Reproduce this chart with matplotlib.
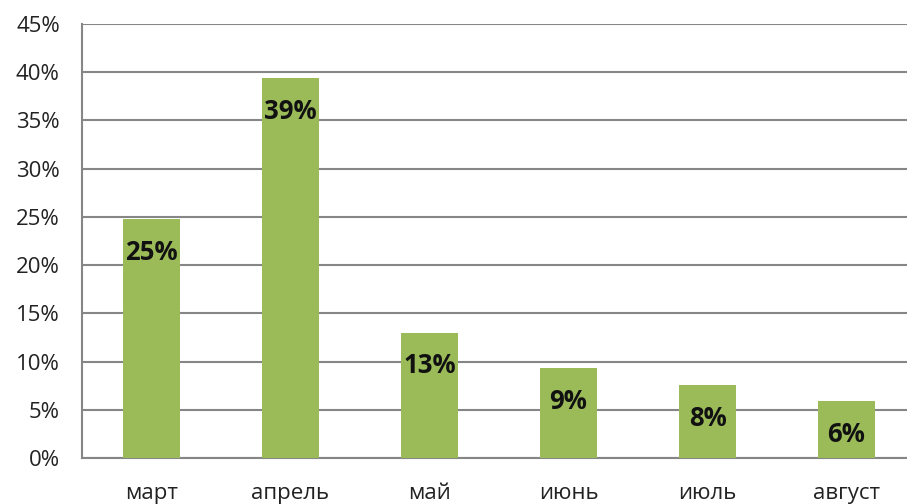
import matplotlib.pyplot as plt
import numpy as np

# Data
months = ['март', 'апрель', 'май', 'июнь', 'июль', 'август']
values = [24.8, 39.4, 13.0, 9.3, 7.6, 5.9]
labels = ['25%', '39%', '13%', '9%', '8%', '6%']
yticks = [0, 5, 10, 15, 20, 25, 30, 35, 40, 45]

plt.rcParams['font.family'] = ['Open Sans', 'DejaVu Sans']

fig = plt.figure(figsize=(9.07, 5.04), dpi=100)
ax = fig.add_axes([82/907, 46/504, 834/907, 434/504])

x = np.arange(len(months))
ax.bar(x, values, width=0.41, color='#9BBB59', zorder=3)

for xi, v, lab in zip(x, values, labels):
    ax.annotate(lab, (xi, v), xytext=(0, -24), textcoords='offset points',
                ha='center', va='center', fontsize=18.5, fontweight='bold',
                color='#111111', zorder=4)

ax.set_xlim(-0.5, 5.5)
ax.set_ylim(0, 45)
ax.set_yticks(yticks)
ax.set_yticklabels([f'{t}%' for t in yticks])
ax.set_xticks(x)
ax.set_xticklabels(months)

ax.grid(axis='y', color='#868686', linewidth=1.5, zorder=0)
ax.tick_params(axis='both', length=0, labelsize=16, colors='#222222')
ax.tick_params(axis='y', pad=16)
ax.tick_params(axis='x', pad=18)

for s in ['top', 'right']:
    ax.spines[s].set_visible(False)
for s in ['left', 'bottom']:
    ax.spines[s].set_color('#868686')
    ax.spines[s].set_linewidth(1.5)

fig.savefig('out.png', dpi=100)
